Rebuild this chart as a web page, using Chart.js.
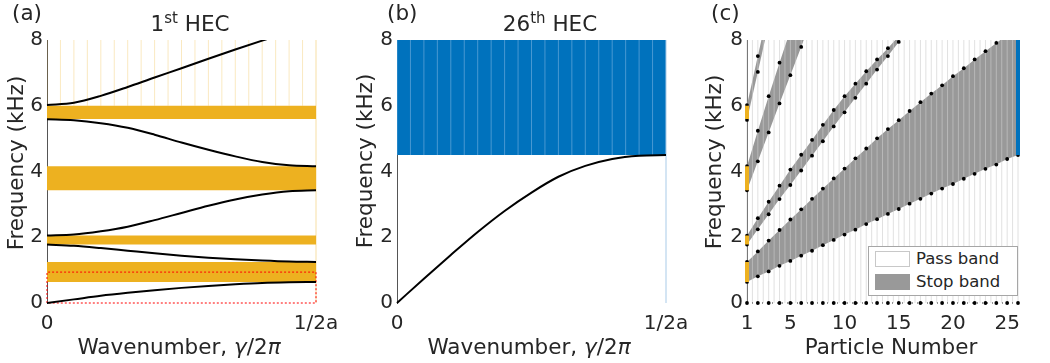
<!DOCTYPE html>
<html lang="en">
<head>
<meta charset="UTF-8">
<title>HEC band structure</title>
<script src="https://cdn.jsdelivr.net/npm/chart.js"></script>
<style>
  body { margin: 0; background: #fff; font-family: "DejaVu Sans", sans-serif; color: #262626; }
  #wrap { position: relative; width: 1050px; height: 363px; overflow: hidden; }
  canvas { position: absolute; top: 0; }
  .lbl { position: absolute; font-size: 21.5px; line-height: 22px; white-space: nowrap; }
  .ctr { text-align: center; }
  .ylab { position: absolute; width: 220px; height: 22px; font-size: 21.5px; line-height: 22px;
          text-align: center; white-space: nowrap; transform: rotate(-90deg); }
  sup { font-size: 15px; line-height: 0; vertical-align: 8px; }
  #legend { position: absolute; left: 868px; top: 246px; width: 148px; height: 48px;
            border: 1px solid #a6a6a6; background: #fff; font-size: 16.5px; }
  #legend .row { position: absolute; left: 6px; height: 16px; line-height: 16px; }
  #legend .sw { display: inline-block; width: 33px; height: 14px; vertical-align: top; margin-right: 6px; }
</style>
</head>
<body>
<div id="wrap">
  <canvas id="chartA" width="350" height="363" style="left:0"></canvas>
  <canvas id="chartB" width="350" height="363" style="left:350px"></canvas>
  <canvas id="chartC" width="355" height="363" style="left:695px"></canvas>

  <div class="lbl" style="left:12px; top:2px">(a)</div>
  <div class="lbl" style="left:387px; top:2px">(b)</div>
  <div class="lbl" style="left:711px; top:2px">(c)</div>

  <div class="lbl ctr" style="left:90px; width:200px; top:13px">1<sup>st</sup> HEC</div>
  <div class="lbl ctr" style="left:450px; width:200px; top:13px">26<sup>th</sup> HEC</div>

  <div class="lbl ctr" style="left:29px; width:300px; top:336px">Wavenumber, <i>γ</i>/2<i>π</i></div>
  <div class="lbl ctr" style="left:379px; width:300px; top:336px">Wavenumber, <i>γ</i>/2<i>π</i></div>
  <div class="lbl ctr" style="left:741px; width:300px; top:336px">Particle Number</div>

  <div class="ylab" style="left:-94px; top:152px">Frequency (kHz)</div>
  <div class="ylab" style="left:255px; top:150px">Frequency (kHz)</div>
  <div class="ylab" style="left:604px; top:151px">Frequency (kHz)</div>

  <div id="legend">
    <div class="row" style="top:4px"><span class="sw" style="background:#fff; border:1px solid #c8c8c8"></span>Pass band</div>
    <div class="row" style="top:27px"><span class="sw" style="background:#999; border:1px solid #999"></span>Stop band</div>
  </div>
</div>

<script>
  // ---- (a) dispersion of the 1st HEC ----
  const kA = [0, 0.05, 0.1, 0.15, 0.2, 0.25, 0.3, 0.35, 0.4, 0.45, 0.5];
  const band1 = [0, 0.11, 0.22, 0.31, 0.39, 0.46, 0.52, 0.57, 0.61, 0.63, 0.64];
  const band2 = [1.78, 1.74, 1.67, 1.59, 1.51, 1.44, 1.38, 1.33, 1.29, 1.26, 1.25];
  const band3 = [2.05, 2.08, 2.18, 2.32, 2.52, 2.74, 2.96, 3.15, 3.30, 3.40, 3.43];
  const band4 = [5.59, 5.56, 5.47, 5.33, 5.12, 4.88, 4.66, 4.46, 4.29, 4.19, 4.16];
  const band5 = [6.02, 6.09, 6.30, 6.57, 6.86, 7.14, 7.43, 7.71, 7.98, 8.24, 8.48];
  const gapLo1 = [0.64, 1.78, 3.43, 5.60];
  const gapHi1 = [1.25, 2.05, 4.16, 6.00];
  const boxTop = 0.94;

  // ---- (b) dispersion of the 26th HEC ----
  const band26 = [0, 0.74, 1.46, 2.16, 2.80, 3.36, 3.84, 4.17, 4.38, 4.48, 4.50];
  const gapLo26 = 4.5;

  // ---- (c) stop bands vs particle number ----
  const particle = [1, 2, 3, 4, 5, 6, 7, 8, 9, 10, 11, 12, 13, 14, 15, 16, 17, 18, 19, 20, 21, 22, 23, 24, 25, 26];
  const zeroF = [0, 0, 0, 0, 0, 0, 0, 0, 0, 0, 0, 0, 0, 0, 0, 0, 0, 0, 0, 0, 0, 0, 0, 0, 0, 0];
  const stopA_lo = [0.64, 0.81, 0.96, 1.13, 1.28, 1.44, 1.59, 1.76, 1.92, 2.08, 2.23, 2.40, 2.55,
                    2.71, 2.86, 3.02, 3.17, 3.33, 3.48, 3.62, 3.78, 3.93, 4.08, 4.21, 4.38, 4.50];
  const stopA_hi = [1.25, 1.57, 1.90, 2.22, 2.54, 2.85, 3.17, 3.48, 3.79, 4.09, 4.40, 4.70, 5.01,
                    5.29, 5.56, 5.84, 6.11, 6.37, 6.62, 6.90, 7.14, 7.41, 7.66, 7.91, 8.15, 8.40];
  const stopB_lo = [1.78, 2.24, 2.70, 3.16, 3.59, 4.03, 4.48, 4.92, 5.37, 5.80, 6.24, 6.67, 7.10, 7.51, 7.94, 8.35];
  const stopB_hi = [2.05, 2.58, 3.08, 3.57, 4.06, 4.51, 4.96, 5.42, 5.87, 6.29, 6.67, 7.05, 7.41, 7.75, 8.12, 8.50];
  const stopC_lo = [3.43, 4.31, 5.19, 6.07, 6.93, 7.79, 8.70];
  const stopC_hi = [4.16, 5.24, 6.29, 7.31, 8.30, 9.30, 10.30];
  const stopD_lo = [5.57, 7.03, 8.50];
  const stopD_hi = [6.02, 7.51, 9.00];

  const kTicks = [0, 0.5];
  const kLabels = ['0', '1/2a'];
  const nTicks = [1, 5, 10, 15, 20, 25];

  const FONT = '"DejaVu Sans", sans-serif';
  const TXT = '#262626';
  const ORANGE = '#EDB120';
  const BLUE = '#0072BD';
  const GREY = '#999999';
  const SIDES = { left: 4, right: 4, top: 0, bottom: 4 };

  function pts(xs, ys) {
    return ys.map((y, i) => ({ x: xs[i], y: y }));
  }

  // thin vertical rendering stripes (texture only)
  function vlines(x0, x1, step, y0, y1) {
    const out = [];
    for (let x = x0; x <= x1 + 1e-9; x += step) {
      out.push({ x: x, y: y0 }, { x: x, y: y1 }, { x: x, y: null });
    }
    return out;
  }

  function curve(xs, ys) {
    return { data: pts(xs, ys), borderColor: '#000', borderWidth: 2, pointRadius: 0,
             cubicInterpolationMode: 'monotone', fill: false, order: 1, clip: SIDES };
  }

  function yAxis(w) {
    return {
      type: 'linear', min: 0, max: 8,
      ticks: { stepSize: 2, padding: 4, color: TXT, font: { family: FONT, size: 20 } },
      grid: { display: false, drawTicks: false },
      border: { display: true, color: '#555', width: 1 },
      afterFit: s => { s.width = w; }
    };
  }

  function xAxis(min, max, ticks, labels) {
    return {
      type: 'linear', min: min, max: max,
      afterBuildTicks: s => { s.ticks = ticks.map(v => ({ value: v })); },
      ticks: {
        padding: 9, color: TXT, maxRotation: 0, autoSkip: false,
        font: { family: FONT, size: 20 },
        callback: v => labels ? labels[ticks.indexOf(v)] : String(v)
      },
      grid: { display: false, drawTicks: false },
      border: { display: false },
      afterFit: s => { s.height = 60; }
    };
  }

  function baseOptions(x, y, pad) {
    return {
      responsive: false, animation: false, events: [],
      layout: { padding: pad },
      scales: { x: x, y: y },
      plugins: { legend: { display: false }, tooltip: { enabled: false },
                 filler: { drawTime: 'beforeDatasetsDraw' } }
    };
  }

  // ---------- panel (a) ----------
  const dsA = [];
  gapLo1.forEach((lo, i) => {
    dsA.push({ data: pts(kTicks, [gapHi1[i], gapHi1[i]]), borderColor: 'rgba(0,0,0,0)', borderWidth: 1,
               backgroundColor: ORANGE, fill: { value: lo }, pointRadius: 0, order: 5 });
  });
  dsA.push({ data: vlines(0, 0.5, 0.025, 6, 8), borderColor: 'rgba(237,177,32,0.28)', borderWidth: 1,
             pointRadius: 0, fill: false, order: 4 });
  dsA.push({ data: [{ x: 0.5, y: 0 }, { x: 0.5, y: 8 }], borderColor: 'rgba(237,177,32,0.4)', borderWidth: 1,
             pointRadius: 0, fill: false, order: 4, clip: SIDES });
  dsA.push({ data: [{ x: 0, y: 0 }, { x: 0, y: boxTop }, { x: 0.5, y: boxTop }, { x: 0.5, y: 0 }, { x: 0, y: 0 }],
             borderColor: '#ff0000', borderWidth: 1, borderDash: [2, 2], pointRadius: 0, fill: false,
             order: 2, clip: SIDES });
  [band1, band2, band3, band4, band5].forEach(b => dsA.push(curve(kA, b)));

  new Chart(document.getElementById('chartA'), {
    type: 'line',
    data: { datasets: dsA },
    options: baseOptions(xAxis(0, 0.5, kTicks, kLabels), yAxis(47), { left: 0, right: 34, top: 40, bottom: 0 })
  });

  // ---------- panel (b) ----------
  const dsB = [
    { data: pts(kTicks, [8.5, 8.5]), borderColor: 'rgba(0,0,0,0)', borderWidth: 1,
      backgroundColor: BLUE, fill: { value: gapLo26 }, pointRadius: 0, order: 5 },
    { data: vlines(0, 0.5, 0.025, gapLo26, 8), borderColor: 'rgba(160,200,235,0.45)', borderWidth: 1,
      pointRadius: 0, fill: false, order: 4 },
    { data: [{ x: 0.5, y: 0 }, { x: 0.5, y: 8 }], borderColor: '#a9cbe8', borderWidth: 1,
      pointRadius: 0, fill: false, order: 4, clip: SIDES },
    curve(kA, band26)
  ];

  new Chart(document.getElementById('chartB'), {
    type: 'line',
    data: { datasets: dsB },
    options: baseOptions(xAxis(0, 0.5, kTicks, kLabels), yAxis(47), { left: 0, right: 34, top: 40, bottom: 0 })
  });

  // ---------- panel (c) ----------
  function wedge(lo, hi) {
    const n = particle.slice(0, lo.length);
    const common = { borderColor: 'rgba(0,0,0,0)', borderWidth: 1, pointRadius: 1.9,
                     pointBackgroundColor: '#000', pointBorderWidth: 0, order: 3, clip: SIDES };
    return [
      Object.assign({ data: pts(n, lo), fill: false }, common),
      Object.assign({ data: pts(n, hi), fill: '-1', backgroundColor: GREY }, common)
    ];
  }

  const dsC = [];
  dsC.push({ data: vlines(1, 26, 0.5, 0, 8), borderColor: 'rgba(205,205,205,0.6)', borderWidth: 1,
             pointRadius: 0, fill: false, order: 6, clip: SIDES });
  dsC.push(...wedge(stopA_lo, stopA_hi));
  dsC.push(...wedge(stopB_lo, stopB_hi));
  dsC.push(...wedge(stopC_lo, stopC_hi));
  dsC.push(...wedge(stopD_lo, stopD_hi));
  dsC.push({ data: pts(particle, zeroF), borderColor: '#333', borderWidth: 1, borderDash: [1, 4],
             pointRadius: 1.9, pointBackgroundColor: '#000', pointBorderWidth: 0, fill: false,
             order: 2, clip: SIDES });
  const seg1 = [];
  gapLo1.forEach((lo, i) => seg1.push({ x: 1, y: lo }, { x: 1, y: gapHi1[i] }, { x: 1, y: null }));
  dsC.push({ data: seg1, borderColor: ORANGE, borderWidth: 4, pointRadius: 0, fill: false,
             order: 1, clip: SIDES });
  dsC.push({ data: [{ x: 26, y: gapLo26 }, { x: 26, y: 8.5 }], borderColor: BLUE, borderWidth: 4,
             pointRadius: 0, fill: false, order: 1, clip: SIDES });

  new Chart(document.getElementById('chartC'), {
    type: 'line',
    data: { datasets: dsC },
    options: baseOptions(xAxis(1, 26, nTicks, null), yAxis(52), { left: 0, right: 32, top: 40, bottom: 0 })
  });
</script>
</body>
</html>
